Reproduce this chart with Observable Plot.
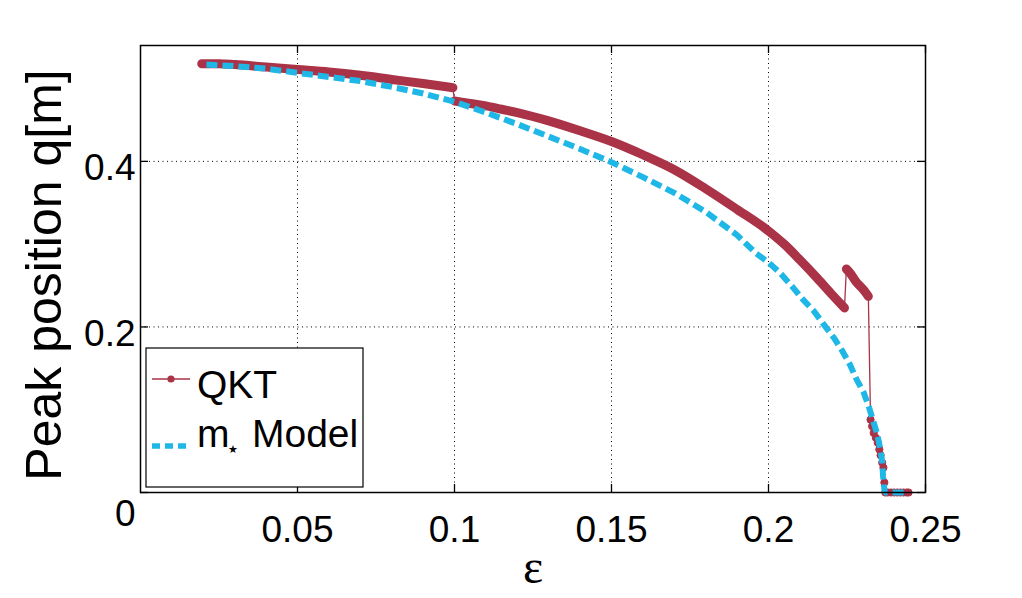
<!DOCTYPE html>
<html>
<head>
<meta charset="utf-8">
<script src="https://cdn.jsdelivr.net/npm/d3@7"></script>
<script src="https://cdn.jsdelivr.net/npm/@observablehq/plot@0.6"></script>
<style>
  html, body { margin: 0; padding: 0; background: #fff; }
  #chart { width: 1022px; height: 598px; }
</style>
</head>
<body>
<div id="chart"></div>
<script>
// ---------- data ----------
const xTicks = [0.05, 0.1, 0.15, 0.2, 0.25];
const xTickLabels = ["0.05", "0.1", "0.15", "0.2", "0.25"];
const xGrid = [0.05, 0.1, 0.15, 0.2];
const yTicks = [0, 0.2, 0.4];
const yTickLabels = ["0", "0.2", "0.4"];
const yGrid = [0.2, 0.4];

// QKT peak position; seg marks the continuous branches
const qktEps = [
  0.0195, 0.025, 0.03, 0.04, 0.05, 0.06, 0.07, 0.08, 0.09, 0.0995,
  0.1000, 0.105, 0.11, 0.115, 0.12, 0.13, 0.14, 0.15, 0.16, 0.17, 0.18, 0.19, 0.20, 0.205, 0.21, 0.2155, 0.2205, 0.2242,
  0.2248, 0.226, 0.228, 0.230, 0.2318,
  0.2325, 0.2330, 0.2335, 0.2342, 0.2348, 0.2353, 0.2357, 0.2362, 0.2366, 0.2369, 0.2372,
  0.2380, 0.2390, 0.2400, 0.2410, 0.2420, 0.2430, 0.2440, 0.2446
];
const qktQ = [
  0.518, 0.518, 0.517, 0.514, 0.511, 0.508, 0.504, 0.499, 0.494, 0.489,
  0.473, 0.470, 0.467, 0.463, 0.459, 0.449, 0.437, 0.424, 0.408, 0.390, 0.367, 0.342, 0.316, 0.300, 0.281, 0.259, 0.238, 0.223,
  0.270, 0.265, 0.254, 0.246, 0.237,
  0.088, 0.080, 0.072, 0.066, 0.060, 0.052, 0.045, 0.036, 0.030, 0.012, 0.000,
  0.000, 0.000, 0.000, 0.000, 0.000, 0.000, 0.000, 0.000
];
const qktSeg = [
  "A","A","A","A","A","A","A","A","A","A",
  "B","B","B","B","B","B","B","B","B","B","B","B","B","B","B","B","B","B",
  "C","C","C","C","C",
  "D","D","D","D","D","D","D","D","D","D","D",
  "D","D","D","D","D","D","D","D"
];

// m* model
const modelEps = [
  0.021, 0.03, 0.04, 0.05, 0.06, 0.07, 0.08, 0.09, 0.10, 0.11, 0.12, 0.13, 0.14, 0.15,
  0.16, 0.17, 0.18, 0.19, 0.196, 0.200, 0.204, 0.2075, 0.211, 0.2145, 0.218, 0.221,
  0.2235, 0.226, 0.228, 0.2304, 0.232, 0.2333, 0.2346, 0.2357, 0.2362, 0.2365, 0.2370, 0.2443
];
const modelQ = [
  0.517, 0.515, 0.512, 0.507, 0.502, 0.497, 0.490, 0.482, 0.472, 0.459, 0.445, 0.430, 0.415, 0.399,
  0.381, 0.362, 0.339, 0.311, 0.289, 0.278, 0.264, 0.249, 0.233, 0.219, 0.201, 0.186,
  0.171, 0.154, 0.137, 0.120, 0.103, 0.087, 0.071, 0.051, 0.037, 0.019, 0.000, 0.000
];

const qkt = qktEps.map((e, i) => ({eps: e, q: qktQ[i], seg: qktSeg[i]}));
const model = modelEps.map((e, i) => ({eps: e, q: modelQ[i]}));

const RED = "#aa3347";
const CYAN = "#1fb7e6";
const SANS = "'Liberation Sans', Arial, Helvetica, sans-serif";

const chart = Plot.plot({
  width: 1022,
  height: 598,
  marginLeft: 140,
  marginRight: 97,
  marginTop: 45,
  marginBottom: 106,
  x: {domain: [0, 0.25], axis: null},
  y: {domain: [0, 0.54], axis: null},
  style: {fontFamily: SANS, background: "white", color: "black"},
  marks: [
    // dotted grid
    Plot.ruleX(xGrid, {x: d => d, stroke: "black", strokeWidth: 1, strokeDasharray: "1,3.5"}),
    Plot.ruleY(yGrid, {y: d => d, stroke: "black", strokeWidth: 1, strokeDasharray: "1,3.5"}),
    // inward ticks
    Plot.tickX(xTicks, {x: d => d, insetTop: 439, stroke: "black", strokeWidth: 1.3}),
    Plot.tickX(xTicks, {x: d => d, insetBottom: 439, stroke: "black", strokeWidth: 1.3}),
    Plot.tickY(yTicks, {y: d => d, insetRight: 777, stroke: "black", strokeWidth: 1.3}),
    Plot.tickY(yTicks, {y: d => d, insetLeft: 777, stroke: "black", strokeWidth: 1.3}),
    // QKT: thin connecting line, dense marker branches
    Plot.line(qkt, {x: "eps", y: "q", stroke: RED, strokeWidth: 1.3}),
    Plot.line(qkt.filter(d => d.seg !== "D"), {x: "eps", y: "q", z: "seg", stroke: RED, strokeWidth: 9, strokeLinecap: "round", curve: "monotone-x"}),
    Plot.dot(qkt.filter(d => d.seg === "D"), {x: "eps", y: "q", r: 3.6, fill: RED, stroke: RED, strokeWidth: 1}),
    // model
    Plot.line(model, {x: "eps", y: "q", stroke: CYAN, strokeWidth: 6, strokeDasharray: "11,5", strokeLinecap: "butt", strokeLinejoin: "miter"}),
    // frame
    Plot.frame({stroke: "black", strokeWidth: 1.5}),
    // tick labels
    Plot.text(xTicks, {x: d => d, text: (d, i) => xTickLabels[i], frameAnchor: "bottom", lineAnchor: "top", dy: 23, fontSize: 37, fill: "black"}),
    Plot.text(yTicks.slice(1), {y: d => d, text: (d, i) => yTickLabels[i + 1], frameAnchor: "left", textAnchor: "end", dx: -5, dy: 7, fontSize: 37, fill: "black"}),
    Plot.text(yTicks.slice(0, 1), {y: d => d, text: (d, i) => yTickLabels[i], frameAnchor: "left", textAnchor: "end", dx: -5, dy: 22, fontSize: 37, fill: "black"}),
    // axis labels
    Plot.text(["ε"], {text: d => d, frameAnchor: "bottom", lineAnchor: "top", dy: 56, fontSize: 48, fontFamily: "'Liberation Serif', 'DejaVu Serif', serif", fill: "black"}),
    Plot.text(["Peak position q[m]"], {text: d => d, frameAnchor: "left", textAnchor: "middle", lineAnchor: "middle", rotate: -90, dx: -96, dy: 6, fontSize: 50, fill: "black"})
  ]
});

document.getElementById("chart").appendChild(chart);

// legend box (inside the axes, lower-left)
const svg = d3.select(chart);
const lg = svg.append("g").attr("class", "legend").attr("text-anchor", "start");
lg.append("rect").attr("x", 146).attr("y", 348).attr("width", 217).attr("height", 139)
  .attr("fill", "white").attr("stroke", "black").attr("stroke-width", 1.2);
lg.append("line").attr("x1", 152).attr("x2", 190).attr("y1", 379).attr("y2", 379)
  .attr("stroke", RED).attr("stroke-width", 1.3);
lg.append("circle").attr("cx", 171).attr("cy", 379).attr("r", 3.6).attr("fill", RED);
lg.append("text").attr("x", 197).attr("y", 398).attr("font-family", SANS).attr("font-size", 39)
  .attr("text-anchor", "start").attr("fill", "black").text("QKT");
lg.append("line").attr("x1", 152).attr("x2", 190).attr("y1", 446).attr("y2", 446)
  .attr("stroke", CYAN).attr("stroke-width", 5.5).attr("stroke-dasharray", "8,5");
lg.append("text").attr("x", 197).attr("y", 447).attr("font-family", SANS).attr("font-size", 39)
  .attr("text-anchor", "start").attr("fill", "black").text("m");
lg.append("text").attr("x", 233).attr("y", 453).attr("font-family", "'DejaVu Sans', sans-serif")
  .attr("font-size", 11).attr("text-anchor", "middle").attr("fill", "black").text("★");
lg.append("text").attr("x", 252).attr("y", 447).attr("font-family", SANS).attr("font-size", 39)
  .attr("text-anchor", "start").attr("fill", "black").text("Model");
</script>
</body>
</html>
